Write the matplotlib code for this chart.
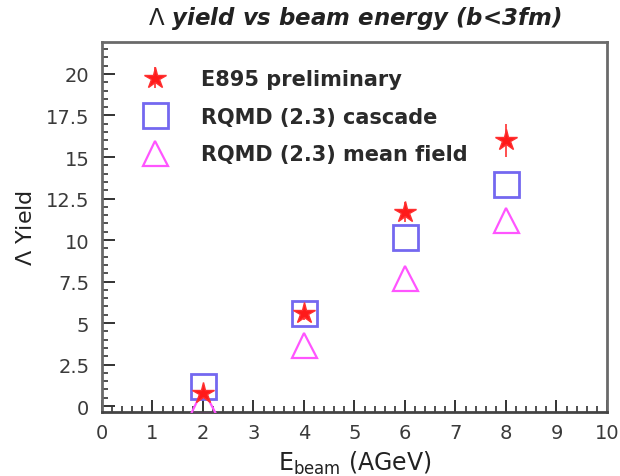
import matplotlib
matplotlib.use("Agg")
import matplotlib.pyplot as plt
from matplotlib.ticker import MultipleLocator

# Beam energies (AGeV) and Lambda yields
energy = [2, 4, 6, 8]
e895_yield = [0.8, 5.6, 11.7, 16.0]
e895_err = [0.3, 0.4, 0.6, 1.0]
rqmd_cascade = [1.2, 5.6, 10.2, 13.4]
rqmd_meanfield = [0.3, 3.7, 7.7, 11.2]

series_labels = ["E895 preliminary", "RQMD (2.3) cascade", "RQMD (2.3) mean field"]
x_ticks = [0, 1, 2, 3, 4, 5, 6, 7, 8, 9, 10]
y_ticks = [0, 2.5, 5, 7.5, 10, 12.5, 15, 17.5, 20]
y_tick_labels = ["0", "2.5", "5", "7.5", "10", "12.5", "15", "17.5", "20"]

plt.rcParams["font.family"] = ["DejaVu Sans"]

fig = plt.figure(figsize=(6.2, 4.77), dpi=100)
ax = fig.add_axes([0.1645, 0.134, 0.8145, 0.776])

ax.plot(energy, rqmd_meanfield, linestyle="none", marker="^", markersize=18,
        markerfacecolor="none", markeredgecolor="#ff55ff", markeredgewidth=1.6,
        label=series_labels[2], zorder=3)
ax.plot(energy, rqmd_cascade, linestyle="none", marker="s", markersize=18,
        markerfacecolor="none", markeredgecolor="#7468f0", markeredgewidth=2.0,
        label=series_labels[1], zorder=4)
ax.errorbar(energy, e895_yield, yerr=e895_err, linestyle="none", marker="*",
            markersize=16, color="#ff1a1a", markeredgecolor="#ff3030",
            ecolor="#ff3030", elinewidth=1.2, capsize=0,
            label=series_labels[0], zorder=5)

ax.set_xlim(0, 10)
ax.set_ylim(-0.36, 21.93)
ax.set_xticks(x_ticks)
ax.set_xticklabels([str(v) for v in x_ticks])
ax.set_yticks(y_ticks)
ax.set_yticklabels(y_tick_labels)
ax.xaxis.set_minor_locator(MultipleLocator(0.2))
ax.yaxis.set_minor_locator(MultipleLocator(0.5))

ax.tick_params(axis="both", which="major", direction="in", length=9, width=1.4,
               color="#333333", labelsize=14, labelcolor="#3a3a3a")
ax.tick_params(axis="both", which="minor", direction="in", length=4, width=1.2,
               color="#333333")
ax.tick_params(axis="y", which="major", pad=9)
ax.tick_params(axis="x", which="major", pad=8)

for side in ["left", "right", "top"]:
    ax.spines[side].set_color("#6a6a6a")
    ax.spines[side].set_linewidth(2)
ax.spines["bottom"].set_color("#444444")
ax.spines["bottom"].set_linewidth(2)

ax.set_title(r"$\Lambda$ yield vs beam energy (b<3fm)", fontsize=16.5,
             fontweight="bold", fontstyle="italic", color="#222222", pad=13)
ax.set_xlabel(r"E$_{\mathregular{beam}}$ (AGeV)", fontsize=17, color="#222222",
              labelpad=5)
ax.set_ylabel(r"$\mathregular{\Lambda}$ Yield", fontsize=16, color="#222222",
              labelpad=7)

handles, labels = ax.get_legend_handles_labels()
order = [2, 1, 0]
leg = ax.legend([handles[i] for i in order], [labels[i] for i in order],
                loc="upper left", bbox_to_anchor=(0.035, 0.978), frameon=False,
                labelspacing=0.85, handletextpad=1.4, handlelength=1.6,
                prop={"weight": "bold", "size": 15})
for t in leg.get_texts():
    t.set_color("#2a2a2a")

fig.savefig("out.png", dpi=100)
